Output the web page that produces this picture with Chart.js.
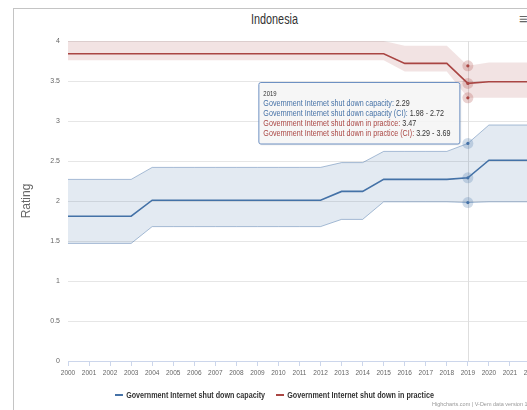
<!DOCTYPE html>
<html><head><meta charset="utf-8">
<script src="https://cdn.jsdelivr.net/npm/chart.js@4"></script>
<style>
html,body{margin:0;padding:0;width:527px;height:410px;overflow:hidden;background:#fff;}
#frame{position:absolute;left:13px;top:8px;width:640px;height:640px;border:1px solid #c4c4c4;}
#wrap{position:absolute;left:0;top:0;width:560px;height:410px;}
.t{position:absolute;font-family:'Liberation Sans',Arial,sans-serif;white-space:nowrap;transform-origin:0 50%;}
#title{left:251px;top:11px;font-size:14px;color:#333;}
#menu{left:519px;top:10px;font-size:15px;color:#666;}
.leg{top:390px;font-size:9px;font-weight:bold;color:#333;line-height:10px;}
.sw{display:inline-block;width:10px;height:2px;vertical-align:middle;margin-right:4px;margin-top:-1px;}
#credits{left:432px;top:401px;font-size:5.5px;color:#999;}
</style></head>
<body>
<div id="frame"></div>
<div class="t" id="title">Indonesia</div>
<div class="t" id="menu">&#8801;</div>
<div id="wrap"><canvas id="c"></canvas></div>
<div class="t leg" id="leg1"></div>
<div class="t leg" id="leg2"></div>
<div class="t" id="credits">Highcharts.com | V-Dem data version 13</div>
<script>
const years = ['2000','2001','2002','2003','2004','2005','2006','2007','2008','2009','2010','2011','2012','2013','2014','2015','2016','2017','2018','2019','2020','2021','2022'];
const capacity     = [1.81,1.81,1.81,1.81,2.01,2.01,2.01,2.01,2.01,2.01,2.01,2.01,2.01,2.12,2.12,2.27,2.27,2.27,2.27,2.29,2.51,2.51,2.51];
const capacityLow  = [1.47,1.47,1.47,1.47,1.68,1.68,1.68,1.68,1.68,1.68,1.68,1.68,1.68,1.77,1.77,1.99,1.99,1.99,1.99,1.98,1.99,1.99,1.99];
const capacityHigh = [2.27,2.27,2.27,2.27,2.42,2.42,2.42,2.42,2.42,2.42,2.42,2.42,2.42,2.48,2.48,2.62,2.62,2.62,2.62,2.72,2.95,2.95,2.95];
const practice     = [3.84,3.84,3.84,3.84,3.84,3.84,3.84,3.84,3.84,3.84,3.84,3.84,3.84,3.84,3.84,3.84,3.72,3.72,3.72,3.47,3.49,3.49,3.49];
const practiceLow  = [3.76,3.76,3.76,3.76,3.76,3.76,3.76,3.76,3.76,3.76,3.76,3.76,3.76,3.76,3.76,3.76,3.62,3.62,3.62,3.29,3.29,3.29,3.29];
const practiceHigh = [4.00,4.00,4.00,4.00,4.00,4.00,4.00,4.00,4.00,4.00,4.00,4.00,4.00,4.00,4.00,4.00,3.94,3.94,3.94,3.69,3.73,3.73,3.73];
const seriesNames = ['Government Internet shut down capacity','Government Internet shut down in practice'];
const yTicks = [0,0.5,1,1.5,2,2.5,3,3.5,4];
const hoverYear = '2019';

const BLUE = 'rgb(69,114,167)', RED = 'rgb(170,70,67)';
const FONT = "'Liberation Sans',Arial,sans-serif";
Chart.defaults.font.family = FONT;

function fit(el, target, extra){
  const w = el.getBoundingClientRect().width;
  el.style.transform = (extra||'') + 'scaleX(' + (target / w) + ')';
}
const l1=document.getElementById('leg1'), l2=document.getElementById('leg2');
l1.style.left='115px'; l2.style.left='276px';
l1.innerHTML='<span class="sw" style="background:'+BLUE+'"></span>'+seriesNames[0];
l2.innerHTML='<span class="sw" style="background:'+RED+'"></span>'+seriesNames[1];
fit(l1,150); fit(l2,158);
fit(document.getElementById('title'),47);

const hoverIdx = years.indexOf(hoverYear);
const fmt = v => v.toFixed(2);

const overlay = {
  id:'overlay',
  beforeDatasetsDraw(chart){
    const ctx=chart.ctx, a=chart.chartArea;
    const px=chart.scales.x.getPixelForValue(hoverIdx);
    ctx.save(); ctx.strokeStyle='#dedede'; ctx.lineWidth=1;
    ctx.beginPath(); ctx.moveTo(Math.round(px)+0.5,a.top); ctx.lineTo(Math.round(px)+0.5,a.bottom); ctx.stroke();
    ctx.restore();
  },
  afterDatasetsDraw(chart){
    const ctx=chart.ctx;
    ctx.save();
    chart.data.datasets.forEach((ds,d)=>{
      const el=chart.getDatasetMeta(d).data[hoverIdx];
      const c = ds._base;
      ctx.fillStyle = c.replace('rgb','rgba').replace(')',',0.25)');
      ctx.beginPath(); ctx.arc(el.x,el.y,5.5,0,Math.PI*2); ctx.fill();
      ctx.fillStyle=c;
      ctx.beginPath(); ctx.arc(el.x,el.y,1.6,0,Math.PI*2); ctx.fill();
    });
    ctx.restore();
  },
  afterDraw(chart){
    const ctx=chart.ctx, a=chart.chartArea;
    const px=chart.scales.x.getPixelForValue(hoverIdx);
    const rows=[
      [seriesNames[0]+':', ' '+fmt(capacity[hoverIdx]), BLUE],
      [seriesNames[0]+' (CI):', ' '+fmt(capacityLow[hoverIdx])+' - '+fmt(capacityHigh[hoverIdx]), BLUE],
      [seriesNames[1]+':', ' '+fmt(practice[hoverIdx]), RED],
      [seriesNames[1]+' (CI):', ' '+fmt(practiceLow[hoverIdx])+' - '+fmt(practiceHigh[hoverIdx]), RED]
    ];
    ctx.save();
    ctx.font='9px '+FONT;
    let w=0;
    rows.forEach(r=>{w=Math.max(w,ctx.measureText(r[0]+r[1]).width);});
    const pad=5, boxW=201, innerW=boxW-2*pad-4, sx=innerW/w;
    const right=px-8.5, left=right-boxW, top=a.top+41, h=61.5;
    ctx.shadowColor='rgba(0,0,0,0.12)'; ctx.shadowOffsetX=1; ctx.shadowOffsetY=1; ctx.shadowBlur=2;
    ctx.fillStyle='rgba(247,247,247,0.9)';
    ctx.beginPath(); ctx.roundRect(left+0.5,top+0.5,boxW,h,2); ctx.fill();
    ctx.shadowColor='transparent';
    ctx.strokeStyle='rgb(110,145,195)'; ctx.lineWidth=1; ctx.stroke();
    ctx.textBaseline='middle'; ctx.textAlign='left';
    ctx.save(); ctx.translate(left+pad,top+11.5); ctx.scale(sx,1);
    ctx.font='7.5px '+FONT; ctx.fillStyle='#333'; ctx.fillText(hoverYear,0,0);
    ctx.restore();
    ctx.font='9px '+FONT;
    rows.forEach((r,i)=>{
      ctx.save(); ctx.translate(left+pad,top+22+i*10); ctx.scale(sx,1);
      ctx.fillStyle=r[2]; ctx.fillText(r[0],0,0);
      const lw=ctx.measureText(r[0]).width;
      ctx.fillStyle='#333'; ctx.fillText(r[1],lw,0);
      ctx.restore();
    });
    ctx.restore();
  }
};

const band = (data, color, fill, lineColor, lw) => ({
  data, _base: color, borderColor: lineColor, borderWidth: lw, backgroundColor: fill,
  pointRadius:0, pointHoverRadius:0, tension:0
});

const dsCapLow  = band(capacityLow, BLUE, 'transparent', 'rgba(69,114,167,0.45)', 1); dsCapLow.fill=false;
const dsCapHigh = band(capacityHigh, BLUE, 'rgba(69,114,167,0.15)', 'rgba(69,114,167,0.45)', 1); dsCapHigh.fill='-1';
const dsCap     = band(capacity, BLUE, 'transparent', BLUE, 1.6); dsCap.fill=false;
const dsPrLow   = band(practiceLow, RED, 'transparent', 'rgba(170,70,67,0)', 0); dsPrLow.fill=false;
const dsPrHigh  = band(practiceHigh, RED, 'rgba(170,70,67,0.15)', 'rgba(170,70,67,0)', 0); dsPrHigh.fill='-1';
const dsPr      = band(practice, RED, 'transparent', RED, 1.6); dsPr.fill=false;

new Chart(document.getElementById('c'), {
  type:'line',
  data:{labels:years, datasets:[dsCapLow,dsCapHigh,dsCap,dsPrLow,dsPrHigh,dsPr]},
  plugins:[overlay],
  options:{
    responsive:true, maintainAspectRatio:false, animation:false,
    layout:{padding:{top:41,left:0,right:29,bottom:0}},
    plugins:{legend:{display:false}, tooltip:{enabled:false}},
    events:[],
    scales:{
      x:{
        offset:false,
        grid:{display:true, drawOnChartArea:false, drawTicks:true, tickLength:5, color:'#ccd6eb'},
        border:{display:true, color:'#ccd6eb'},
        ticks:{font:{size:6.5}, color:'#666', maxRotation:0, autoSkip:false, padding:3},
        afterFit(s){ s.height = 49; }
      },
      y:{
        min:0, max:4,
        afterBuildTicks(s){ s.ticks = yTicks.map(v=>({value:v})); },
        grid:{color:'#e6e6e6', drawTicks:false, tickLength:0},
        border:{display:false},
        ticks:{font:{size:7}, color:'#666', padding:8, callback:v=>String(v)},
        title:{display:true, text:'Rating', color:'#666', font:{size:12}, padding:{top:19,bottom:0}},
        afterFit(s){ s.width = 68; }
      }
    }
  }
});
</script>
</body></html>
